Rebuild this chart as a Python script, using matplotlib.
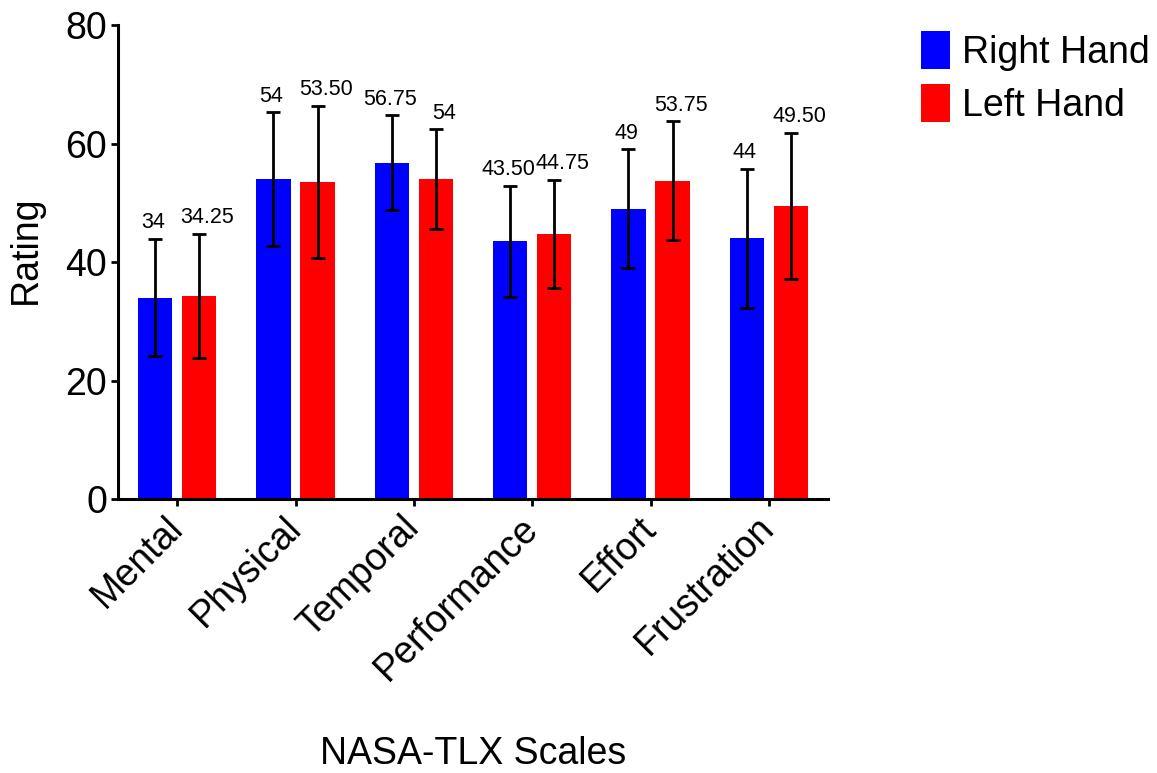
import numpy as np
import matplotlib
matplotlib.use("Agg")
import matplotlib.pyplot as plt

plt.rcParams['font.family'] = ['Liberation Sans', 'DejaVu Sans']

# NASA-TLX scores (mean and SD) per scale
scales = ['Mental', 'Physical', 'Temporal', 'Performance', 'Effort', 'Frustration']
right_mean = [34, 54, 56.75, 43.50, 49, 44]
left_mean = [34.25, 53.50, 54, 44.75, 53.75, 49.50]
right_sd = [9.9, 11.25, 8.0, 9.4, 10.0, 11.75]
left_sd = [10.5, 12.9, 8.4, 9.1, 10.0, 12.3]


def fmt(v):
    # whole numbers without decimals, the rest with two
    return f"{v:.0f}" if float(v).is_integer() else f"{v:.2f}"


fig = plt.figure(figsize=(11.57, 7.73), dpi=100)
ax = fig.add_axes([118 / 1157, 1 - 499 / 773, 710 / 1157, 474 / 773])

x = np.arange(len(scales))
width = 0.292
off = 0.186

err_kw = dict(ecolor='black', elinewidth=2, capsize=4.7, capthick=2)
ax.bar(x - off, right_mean, width, yerr=right_sd, color='#0000FF',
       label='Right Hand', error_kw=err_kw, zorder=2)
ax.bar(x + off, left_mean, width, yerr=left_sd, color='#FF0000',
       label='Left Hand', error_kw=err_kw, zorder=2)

# value labels above the error bars (right-hand labels nudged right a bit)
for xs, means, sds, dx in [(x - off, right_mean, right_sd, -1.5),
                           (x + off, left_mean, left_sd, 6)]:
    for xi, m, s in zip(xs, means, sds):
        ax.annotate(fmt(m), (xi, m + s), xytext=(dx, 4), textcoords='offset points',
                    ha='center', va='bottom', fontsize=15.5)

ax.set_xlim(-0.5, 5.5)
ax.set_ylim(0, 80)
ax.set_yticks([0, 20, 40, 60, 80])
ax.set_xticks(x)
ax.set_xticklabels(scales, rotation=45, ha='right', va='center',
                   rotation_mode='anchor', fontsize=27)
ax.tick_params(axis='both', width=2, length=5, pad=3, labelsize=27)
ax.tick_params(axis='x', pad=12)

for side in ['top', 'right']:
    ax.spines[side].set_visible(False)
for side in ['left', 'bottom']:
    ax.spines[side].set_linewidth(2.2)

ax.set_ylabel('Rating', fontsize=27)
ax.yaxis.set_label_coords(-0.105, 0.525)
ax.set_xlabel('NASA-TLX Scales', fontsize=27)
ax.xaxis.set_label_coords(0.5, -0.5)

ax.legend(loc='upper left', bbox_to_anchor=(921 / 1157, 1 - 31 / 773),
          bbox_transform=fig.transFigure, frameon=False, fontsize=27,
          handlelength=0.78, handleheight=1.2, handletextpad=0.3,
          labelspacing=0.35, borderpad=0, borderaxespad=0)

fig.savefig('out.png', dpi=100)
